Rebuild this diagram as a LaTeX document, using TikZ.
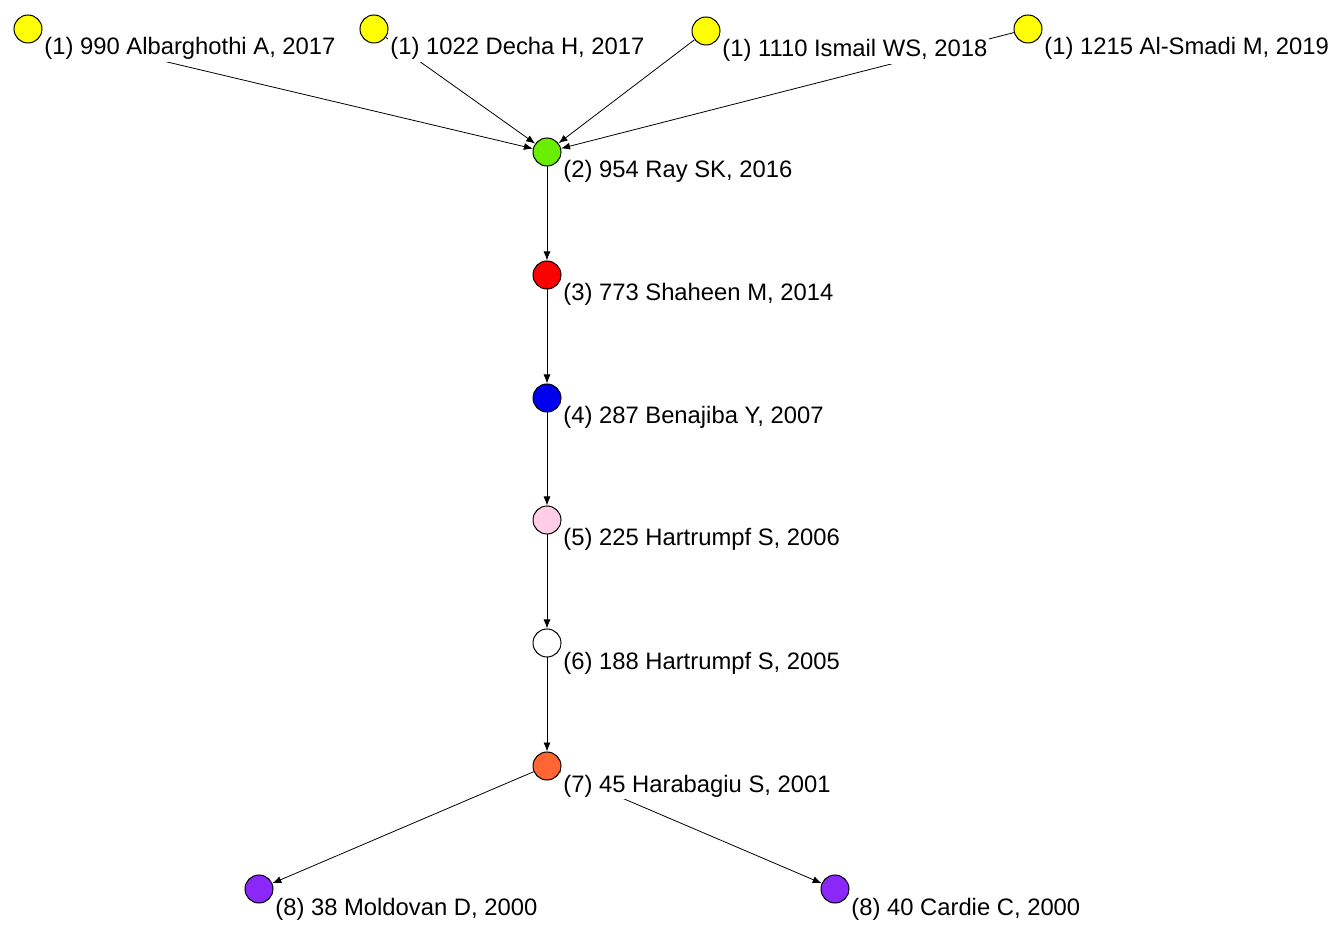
\documentclass[tikz,border=0pt]{standalone}
\usepackage{fontspec}
\setmainfont{Liberation Sans}
\usetikzlibrary{arrows.meta,backgrounds}
\definecolor{cyel}{RGB}{255,255,0}
\definecolor{cgrn}{RGB}{106,238,0}
\definecolor{cred}{RGB}{255,0,0}
\definecolor{cblu}{RGB}{0,0,240}
\definecolor{cpnk}{RGB}{255,206,230}
\definecolor{corg}{RGB}{255,102,51}
\definecolor{cprp}{RGB}{138,40,250}
\tikzset{
  vtx/.style={circle,draw,line width=0.5pt,minimum size=14pt,inner sep=0pt},
  lbl/.style={fill=white,inner sep=1pt,text height=11pt,anchor=base west,font=\fontsize{11.9}{14}\selectfont},
}
\begin{document}
\begin{tikzpicture}[x=0.5pt,y=-0.5pt]
      \useasboundingbox (0,0) rectangle (1341,925);
      \draw
        (28,29) node[vtx,fill=cyel] (990){}
        (374,29) node[vtx,fill=cyel] (1022){}
        (706,31) node[vtx,fill=cyel] (1110){}
        (1028,29) node[vtx,fill=cyel] (1215){}
        (547,152) node[vtx,fill=cgrn] (954){}
        (547,275) node[vtx,fill=cred] (773){}
        (547,398) node[vtx,fill=cblu] (287){}
        (547,520) node[vtx,fill=cpnk] (225){}
        (547,643) node[vtx,fill=white] (188){}
        (547,766) node[vtx,fill=corg] (45){}
        (259,889) node[vtx,fill=cprp] (38){}
        (835,889) node[vtx,fill=cprp] (40){};
      \draw
        ([shift={(14,26)}]990.center) node[lbl] (L990){(1) 990 Albarghothi A, 2017}
        ([shift={(14,26)}]1022.center) node[lbl] (L1022){(1) 1022 Decha H, 2017}
        ([shift={(14,26)}]1110.center) node[lbl] (L1110){(1) 1110 Ismail WS, 2018}
        ([shift={(14,26)}]1215.center) node[lbl] (L1215){(1) 1215 Al-Smadi M, 2019}
        ([shift={(14,26)}]954.center) node[lbl] (L954){(2) 954 Ray SK, 2016}
        ([shift={(14,26)}]773.center) node[lbl] (L773){(3) 773 Shaheen M, 2014}
        ([shift={(14,26)}]287.center) node[lbl] (L287){(4) 287 Benajiba Y, 2007}
        ([shift={(14,26)}]225.center) node[lbl] (L225){(5) 225 Hartrumpf S, 2006}
        ([shift={(14,26)}]188.center) node[lbl] (L188){(6) 188 Hartrumpf S, 2005}
        ([shift={(14,26)}]45.center) node[lbl] (L45){(7) 45 Harabagiu S, 2001}
        ([shift={(14,26)}]38.center) node[lbl] (L38){(8) 38 Moldovan D, 2000}
        ([shift={(14,26)}]40.center) node[lbl] (L40){(8) 40 Cardie C, 2000};
      \begin{scope}[on background layer,-{Latex[length=4.5pt,width=3.5pt]},line width=0.5pt]
        \draw (990) to (954);
        \draw (1022) to (954);
        \draw (1110) to (954);
        \draw (1215) to (954);
        \draw (954) to (773);
        \draw (773) to (287);
        \draw (287) to (225);
        \draw (225) to (188);
        \draw (188) to (45);
        \draw (45) to (38);
        \draw (45) to (40);
      \end{scope}
    \end{tikzpicture}
\end{document}
